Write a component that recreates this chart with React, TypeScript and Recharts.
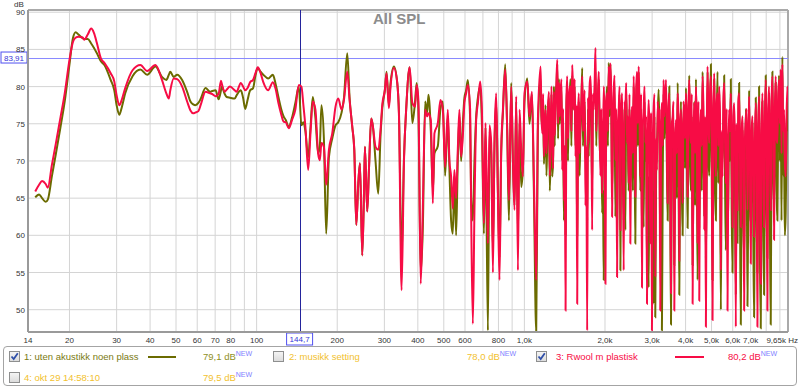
import React from 'react';
import { LineChart, Line, XAxis, YAxis, CartesianGrid, ReferenceLine } from 'recharts';

// 14 - 150 Hz
const lowFreqs = [14.9, 15.4, 15.8, 16.3, 16.6, 17.2, 17.8, 18.5, 19.2, 20.0, 20.6, 21.1, 21.6, 22.4, 22.7, 23.4, 24.1, 24.7, 25.3, 26.2,
  27.0, 28.5, 29.4, 30.0, 30.7, 31.4, 32.3, 34.4, 36.8, 39.0, 41.9, 44.3, 46.0, 47.0, 47.6, 49.0, 50.5, 52.7, 55.0, 56.6,
  58.0, 59.0, 60.6, 61.9, 64.4, 67.0, 68.2, 70.3, 72.1, 73.6, 74.1, 76.0, 77.3, 79.5, 82.8, 84.1, 87.3, 89.0, 90.7, 92.5,
  94.6, 97.0, 99.0, 101.0, 103.5, 105.9, 110.4, 115.0, 117.5, 120.6, 123.5, 126.1, 128.5, 131.8, 135.5, 139.5, 143.7, 147.0, 149.5];
const lowUten = [65.1, 65.5, 65.0, 64.5, 64.8, 68.0, 71.0, 74.5, 78.0, 83.0, 86.5, 87.3, 87.0, 86.5, 86.4, 86.4, 85.8, 85.2, 84.5, 83.4,
  82.9, 80.9, 79.5, 77.5, 76.2, 77.3, 79.1, 81.4, 82.3, 81.6, 82.7, 81.3, 80.9, 81.6, 82.0, 81.3, 81.6, 80.9, 79.3, 78.0,
  77.6, 77.5, 77.8, 78.4, 79.8, 79.3, 79.4, 79.5, 78.3, 79.5, 80.0, 79.0, 78.6, 78.5, 78.4, 78.8, 79.5, 78.5, 77.0, 78.2,
  79.5, 79.8, 81.5, 82.5, 82.0, 81.6, 81.1, 81.6, 80.5, 78.6, 77.0, 76.0, 75.5, 74.6, 75.8, 77.8, 80.0, 74.8, 75.2];
const lowRwool = [65.9, 66.8, 67.3, 66.9, 66.4, 69.5, 72.4, 75.8, 79.1, 83.6, 86.0, 86.6, 86.7, 86.6, 86.3, 87.0, 87.8, 87.2, 85.9, 83.8,
  83.2, 81.8, 80.7, 78.8, 77.5, 78.3, 79.8, 82.2, 82.9, 82.1, 82.9, 80.9, 79.1, 78.4, 79.5, 81.1, 81.0, 80.0, 78.0, 76.8,
  76.4, 76.5, 76.7, 77.6, 79.3, 79.1, 79.0, 78.7, 79.0, 80.8, 80.4, 79.3, 79.6, 80.0, 79.5, 79.3, 80.5, 80.0, 79.5, 79.8,
  80.6, 80.9, 81.8, 82.6, 81.8, 80.6, 79.5, 80.6, 79.8, 77.8, 76.3, 75.3, 75.2, 74.4, 75.5, 76.9, 80.2, 80.0, 77.5];

// 150 - 410 Hz
const bassFreqs = [152.1, 155.8, 158.9, 162.1, 165.8, 169.7, 172.2, 174.6, 178.3, 181.9, 186.2, 191.6, 197.1, 201.8, 207.6, 211.9, 218.0,
  222.4, 227.6, 231.6, 235.6, 239.7, 243.2, 248.0, 251.7, 253.8, 258.9, 262.7, 267.9, 271.9, 278.0, 284.6, 290.3, 294.5,
  301.4, 305.6, 311.9, 316.3, 325.7, 335.1, 340.1, 347.8, 355.1, 362.3, 372.8, 381.6, 390.6, 396.0, 401.9, 410.0];
const bassUten = [74.0, 70.5, 74.5, 78.6, 75.8, 71.0, 72.0, 77.5, 73.0, 60.2, 70.5, 73.0, 74.8, 75.2, 76.5, 78.5, 84.5,
  78.5, 74.6, 71.5, 61.4, 67.0, 69.7, 57.3, 65.6, 71.9, 63.2, 68.8, 75.7, 74.6, 70.0, 65.6, 73.5, 77.0,
  79.6, 82.0, 77.5, 80.5, 82.7, 80.5, 76.5, 57.1, 70.5, 77.3, 82.6, 75.1, 78.0, 80.5, 77.0, 55.0];
const bassRwool = [74.6, 68.8, 73.7, 78.0, 76.9, 71.0, 70.1, 72.4, 71.9, 66.8, 71.5, 73.7, 77.3, 78.4, 76.9, 78.2, 82.0,
  78.2, 74.6, 71.5, 61.4, 67.0, 69.7, 57.3, 65.6, 71.9, 63.2, 68.8, 75.7, 74.6, 71.9, 71.5, 74.2, 77.5,
  79.6, 81.8, 77.1, 80.0, 82.5, 80.5, 76.0, 52.6, 70.1, 77.3, 82.6, 77.8, 77.3, 80.2, 78.2, 53.5];

// 410 Hz - 1.1 kHz
const midFreqs = [417.6, 425.9, 433.3, 438.2, 447.3, 455.1, 461.4, 475.1, 485.8, 495.9, 505.8, 517.6, 524.8, 532.5, 540.3, 547.8,
  555.9, 564.0, 571.9, 580.4, 588.9, 597.1, 606.0, 614.9, 627.2, 632.6, 642.0, 650.9, 660.6, 670.4, 683.8, 693.9,
  706.0, 715.8, 730.7, 740.9, 751.8, 762.9, 773.4, 784.8, 796.4, 807.4, 819.3, 831.4, 848.0, 862.7, 875.4, 892.9,
  906.1, 918.6, 932.2, 946.0, 959.1, 973.2, 987.5, 1001, 1025, 1045, 1067, 1085, 1107, 1123];
const midUten = [61.1, 78.0, 76.5, 78.9, 74.0, 66.0, 71.0, 72.0, 77.0, 78.0, 68.0, 76.0, 69.0, 62.0, 60.2, 68.0,
  60.0, 70.0, 76.0, 70.0, 75.0, 78.5, 79.5, 80.9, 75.5, 65.0, 62.0, 70.0, 76.0, 78.5, 80.0, 75.0,
  60.2, 74.5, 47.2, 74.0, 71.0, 58.0, 72.0, 78.0, 66.0, 57.0, 71.0, 76.4, 83.0, 74.0, 62.0, 80.5,
  70.0, 64.0, 78.0, 60.0, 75.0, 66.5, 69.0, 78.0, 81.1, 75.0, 79.0, 66.0, 47.0, 74.0];
const midRwool = [63.8, 76.9, 76.0, 76.4, 75.5, 64.3, 73.7, 75.1, 78.2, 76.9, 69.2, 76.9, 70.1, 67.9, 63.6, 68.8,
  65.0, 71.5, 76.9, 70.6, 73.3, 77.8, 79.1, 80.2, 76.9, 63.4, 48.1, 63.4, 75.5, 77.8, 80.7, 76.9,
  61.6, 75.1, 58.9, 74.8, 72.4, 55.0, 73.0, 79.1, 65.2, 54.0, 71.5, 76.9, 82.3, 74.2, 64.7, 80.0,
  70.1, 63.4, 78.7, 55.3, 76.9, 71.5, 67.9, 79.1, 80.7, 76.0, 79.3, 67.9, 54.0, 75.5];

// 1.1 - 3.3 kHz
const upperFreqs = [1150, 1158, 1167, 1175, 1183, 1192, 1200, 1209, 1218, 1226, 1235, 1244, 1253, 1262, 1271, 1280, 1289, 1298, 1308, 1317,
  1327, 1336, 1346, 1355, 1365, 1375, 1385, 1395, 1405, 1415, 1425, 1435, 1445, 1455, 1466, 1476, 1487, 1498, 1509, 1519,
  1530, 1541, 1552, 1563, 1575, 1586, 1597, 1608, 1620, 1632, 1644, 1655, 1667, 1679, 1691, 1703, 1716, 1728, 1740, 1752,
  1765, 1778, 1791, 1803, 1816, 1830, 1843, 1856, 1869, 1882, 1896, 1909, 1923, 1937, 1951, 1965, 1979, 1993, 2008, 2022,
  2036, 2051, 2066, 2080, 2095, 2110, 2126, 2141, 2156, 2171, 2187, 2203, 2219, 2235, 2251, 2267, 2283, 2299, 2316, 2332,
  2349, 2366, 2383, 2400, 2417, 2434, 2452, 2469, 2487, 2505, 2523, 2541, 2559, 2577, 2596, 2615, 2634, 2653, 2672, 2691,
  2710, 2729, 2749, 2769, 2789, 2809, 2829, 2849, 2870, 2890, 2911, 2932, 2953, 2974, 2995, 3016, 3038, 3060, 3082, 3104,
  3127, 3149, 3172, 3194, 3217, 3240, 3263, 3286, 3310, 3333];
const upperUten = [81.0, 75.0, 75.0, 78.0, 69.6, 73.0, 77.5, 68.0, 73.0, 77.0, 78.5, 66.0, 70.0, 79.0, 67.9, 70.0, 80.0, 72.0, 80.0, 80.0,
  83.0, 73.0, 81.0, 75.0, 78.0, 80.0, 70.0, 74.0, 62.0, 70.0, 60.0, 77.0, 80.0, 70.0, 79.0, 79.0, 81.0, 72.0, 81.5, 78.0,
  77.0, 80.0, 72.0, 75.0, 60.0, 74.0, 78.0, 68.0, 74.5, 77.0, 82.5, 72.0, 76.0, 78.0, 70.6, 70.0, 62.0, 77.0, 70.6, 79.0,
  80.0, 75.0, 66.0, 78.0, 78.0, 79.0, 82.0, 72.0, 79.0, 78.0, 81.0, 73.0, 70.0, 75.0, 63.0, 66.0, 54.0, 74.0, 78.0, 77.0,
  80.0, 72.0, 83.2, 76.0, 83.0, 78.0, 66.0, 73.0, 78.0, 80.0, 62.5, 75.0, 60.0, 72.0, 75.0, 79.0, 55.3, 74.0, 78.0, 68.0,
  62.0, 77.0, 60.7, 79.0, 74.0, 73.0, 66.0, 77.0, 66.5, 71.0, 76.0, 66.0, 80.0, 74.0, 58.9, 78.0, 81.0, 72.0, 82.0, 75.0,
  66.0, 77.0, 60.0, 70.0, 61.1, 78.0, 70.0, 72.0, 55.7, 68.0, 53.0, 70.0, 62.0, 73.0, 57.0, 66.0, 50.8, 76.0, 49.0, 68.0,
  72.0, 76.0, 79.6, 74.0, 58.0, 72.0, 47.2, 67.0, 79.0, 73.0];
const upperRwool = [82.7, 76.0, 73.7, 79.0, 70.6, 74.0, 76.9, 71.0, 74.6, 77.5, 79.3, 68.0, 72.4, 80.0, 74.0, 69.0, 79.3, 73.5, 76.9, 80.5,
  83.6, 75.0, 80.5, 76.0, 79.1, 81.0, 68.8, 77.0, 64.7, 72.0, 49.9, 78.0, 81.4, 73.0, 77.8, 80.0, 80.0, 74.0, 82.9, 79.5,
  76.9, 81.0, 70.6, 77.5, 50.8, 76.0, 79.1, 71.0, 75.5, 78.0, 81.4, 74.0, 76.9, 79.5, 64.0, 72.0, 47.2, 78.5, 72.4, 80.0,
  81.4, 77.0, 60.7, 79.0, 76.9, 80.5, 85.2, 74.0, 77.3, 79.0, 82.0, 75.5, 68.0, 77.0, 65.6, 71.0, 80.0, 76.0, 53.5, 78.0,
  79.1, 74.0, 82.7, 77.0, 83.1, 79.0, 62.5, 75.0, 79.6, 81.5, 70.1, 77.0, 54.4, 75.0, 76.9, 80.0, 60.7, 76.5, 79.1, 72.0,
  55.3, 78.0, 76.9, 80.5, 72.4, 76.0, 67.0, 79.0, 58.9, 74.0, 77.3, 71.0, 81.4, 76.0, 65.2, 79.5, 82.0, 75.0, 82.7, 77.0,
  67.9, 79.0, 53.0, 74.5, 76.9, 80.0, 72.4, 76.0, 50.8, 73.0, 78.2, 74.0, 58.9, 76.5, 47.2, 72.0, 76.9, 79.0, 54.4, 73.0,
  68.8, 78.0, 74.0, 77.0, 49.9, 75.0, 77.8, 72.0, 80.9, 76.0];

// 3.3 - 9.65 kHz
const topFreqs = [3380, 3404, 3429, 3453, 3478, 3503, 3528, 3553, 3579, 3604,
  3630, 3656, 3683, 3709, 3736, 3762, 3789, 3816, 3844, 3871,
  3899, 3927, 3955, 3983, 4012, 4041, 4070, 4099, 4129, 4158,
  4188, 4218, 4249, 4279, 4310, 4341, 4372, 4403, 4435, 4467,
  4499, 4531, 4563, 4596, 4629, 4662, 4696, 4729, 4763, 4797,
  4832, 4866, 4901, 4936, 4972, 5007, 5043, 5079, 5116, 5153,
  5190, 5227, 5264, 5302, 5340, 5378, 5417, 5456, 5495, 5534,
  5574, 5614, 5654, 5695, 5736, 5777, 5818, 5860, 5902, 5944,
  5987, 6030, 6073, 6117, 6161, 6205, 6250, 6295, 6340, 6385,
  6431, 6477, 6524, 6571, 6618, 6665, 6713, 6761, 6810, 6859,
  6908, 6957, 7007, 7057, 7108, 7159, 7210, 7262, 7314, 7366,
  7419, 7472, 7526, 7580, 7634, 7689, 7744, 7800, 7856, 7912,
  7969, 8026, 8084, 8142, 8200, 8259, 8318, 8378, 8438, 8499,
  8560, 8621, 8683, 8745, 8808, 8871, 8935, 8999, 9063, 9128,
  9194, 9260, 9326, 9393, 9460, 9530, 9600, 9630];
const topUten = [79.0, 70.0, 62.0, 75.0, 80.0, 66.0, 48.0, 72.0, 75.0, 74.0,
  56.0, 68.0, 73.0, 65.0, 80.5, 72.0, 52.0, 70.0, 78.0, 67.0,
  60.0, 75.0, 77.5, 69.0, 79.8, 72.0, 61.0, 74.0, 81.5, 70.0,
  66.0, 76.0, 56.0, 68.0, 78.0, 64.0, 81.0, 72.0, 54.0, 75.0,
  61.0, 70.0, 76.0, 66.0, 82.0, 74.0, 62.5, 72.0, 57.0, 68.0,
  82.0, 71.0, 68.0, 76.0, 83.0, 70.0, 54.0, 73.0, 81.0, 66.0,
  62.0, 75.0, 82.0, 67.0, 79.0, 72.0, 50.0, 70.0, 70.0, 74.0,
  81.5, 68.0, 58.0, 73.0, 61.0, 65.0, 75.0, 70.0, 81.0, 64.0,
  55.0, 72.0, 76.0, 66.0, 52.0, 71.0, 59.0, 75.0, 80.5, 64.0,
  48.0, 70.0, 74.0, 62.0, 57.0, 68.0, 77.0, 73.0, 50.5, 66.0,
  79.5, 62.0, 62.0, 70.0, 75.0, 60.0, 49.0, 68.0, 78.5, 64.0,
  55.0, 71.0, 80.0, 58.0, 47.5, 70.0, 78.0, 62.0, 52.0, 72.0,
  81.5, 64.0, 57.0, 73.0, 79.0, 62.0, 48.0, 75.0, 82.0, 68.0,
  64.0, 74.0, 80.5, 66.0, 62.0, 76.0, 81.5, 70.0, 80.0, 62.0,
  84.0, 68.0, 70.0, 60.0, 63.0, 72.0, 78.0, 74.0];
const topRwool = [80.9, 73.0, 64.3, 77.0, 79.1, 70.0, 52.2, 75.0, 76.0, 78.0,
  49.9, 72.0, 75.5, 71.0, 79.1, 76.0, 56.6, 74.0, 76.9, 72.0,
  64.3, 78.0, 76.0, 73.0, 79.1, 75.0, 65.2, 77.0, 80.9, 74.0,
  72.4, 79.0, 50.8, 73.0, 77.8, 71.0, 80.0, 75.0, 58.9, 78.0,
  51.2, 74.0, 76.9, 72.0, 81.4, 77.0, 60.7, 76.0, 47.7, 73.0,
  82.7, 75.0, 72.4, 79.0, 81.4, 74.0, 48.6, 76.0, 81.8, 73.0,
  67.9, 78.0, 79.1, 72.0, 80.0, 76.0, 55.3, 74.0, 67.9, 78.0,
  80.5, 73.0, 67.0, 77.0, 49.9, 71.0, 76.9, 74.0, 79.1, 70.0,
  61.1, 76.0, 77.8, 72.0, 47.7, 75.0, 63.4, 78.0, 79.1, 71.0,
  61.1, 74.0, 76.0, 70.0, 49.9, 73.0, 75.5, 77.0, 63.4, 72.0,
  78.7, 70.0, 56.2, 74.0, 76.0, 69.0, 59.8, 73.0, 77.8, 71.0,
  47.7, 75.0, 78.7, 68.0, 53.5, 74.0, 79.1, 70.0, 61.1, 76.0,
  80.9, 72.0, 49.9, 77.0, 80.0, 71.0, 63.4, 78.0, 81.4, 74.0,
  59.4, 77.0, 81.4, 73.0, 72.4, 79.0, 80.9, 75.0, 82.3, 71.0,
  83.0, 74.0, 76.9, 70.0, 67.9, 76.0, 80.0, 78.0];

const freqs = [...lowFreqs, ...bassFreqs, ...midFreqs, ...upperFreqs, ...topFreqs];
const utenAkustikk = [...lowUten, ...bassUten, ...midUten, ...upperUten, ...topUten];
const rwoolPlastisk = [...lowRwool, ...bassRwool, ...midRwool, ...upperRwool, ...topRwool];

const xGridTicks = [14, 20, 30, 40, 50, 60, 70, 80, 90, 100, 200, 300, 400, 500, 600, 700, 800, 900,
  1000, 2000, 3000, 4000, 5000, 6000, 7000, 8000, 9000, 9650];
const xTickLabels: Record<number, string> = {
  14: '14', 20: '20', 30: '30', 40: '40', 50: '50', 60: '60', 70: '70', 80: '80', 100: '100',
  200: '200', 300: '300', 400: '400', 500: '500', 600: '600', 800: '800',
  1000: '1,0k', 2000: '2,0k', 3000: '3,0k', 4000: '4,0k', 5000: '5,0k', 6000: '6,0k', 7000: '7,0k', 9650: '9,65k Hz',
};
const yTicks = [50, 55, 60, 65, 70, 75, 80, 85, 90];

const cursorFreq = 144.7;
const cursorLevel = 83.91;

const OLIVE = '#6b6b00';
const RED = '#f70c45';
const GOLD = '#f2c12e';

const data = freqs.map((f, i) => ({ f, uten: utenAkustikk[i], rwool: rwoolPlastisk[i] }));

const XTick = (props: any) => {
  const { x, y, payload } = props;
  const label = xTickLabels[payload.value];
  if (!label) return <g />;
  const last = payload.value === 9650;
  return (
    <text x={last ? x + 10 : x} y={y + 11} textAnchor={last ? 'end' : 'middle'} fontSize={8} fill="#333">
      {label}
    </text>
  );
};

const YTick = (props: any) => {
  const { x, y, payload } = props;
  return (
    <text x={x - 3} y={y + 3} textAnchor="end" fontSize={8} fill="#333">
      {payload.value}
    </text>
  );
};

const CursorXLabel = (props: any) => {
  const { x, y, height } = props.viewBox;
  return (
    <g>
      <rect x={x - 13} y={y + height + 1} width={26} height={12} fill="#fff" stroke="#5050f0" />
      <text x={x} y={y + height + 10} textAnchor="middle" fontSize={8} fill="#3636d8">144,7</text>
    </g>
  );
};

const CursorYLabel = (props: any) => {
  const { y } = props.viewBox;
  return (
    <g>
      <rect x={1} y={y - 5.5} width={26} height={11} fill="#fff" stroke="#5050f0" />
      <text x={14} y={y + 3} textAnchor="middle" fontSize={8} fill="#3636d8">83,91</text>
    </g>
  );
};

// draws the cursor lines with an explicit colour, snapped to the pixel grid
const cursorShape = (color: string, width: number) => (p: any) => {
  const horizontal = Math.abs(p.y1 - p.y2) < 0.01;
  const y = horizontal ? Math.round(p.y1) + 0.5 : null;
  const x = horizontal ? null : Math.round(p.x1) + 0.5;
  return horizontal
    ? <line x1={p.x1} y1={y!} x2={p.x2} y2={y!} stroke={color} strokeWidth={width} />
    : <line x1={x!} y1={p.y1} x2={x!} y2={p.y2} stroke={color} strokeWidth={width} />;
};

const CheckBox = ({ checked, left, top }: { checked: boolean; left: number; top: number }) => (
  <div style={{
    position: 'absolute', left, top, width: 11, height: 11, border: '1px solid #8e8f8f',
    background: 'linear-gradient(#f4f4f4, #dcdcdc)', boxSizing: 'border-box',
  }}>
    {checked && (
      <svg width={11} height={11} style={{ position: 'absolute', left: -1, top: -1 }}>
        <path d="M2.5 5.5 L4.7 8 L8.8 2.2" fill="none" stroke="#2f4fa8" strokeWidth={1.8} />
      </svg>
    )}
  </div>
);

const Txt = ({ left, top, color, children }: { left: number; top: number; color: string; children: React.ReactNode }) => (
  <div style={{ position: 'absolute', left, top, color, fontSize: 9.5, lineHeight: '12px', whiteSpace: 'nowrap' }}>{children}</div>
);

const Level = ({ left, top, color, value }: { left: number; top: number; color: string; value: string }) => (
  <Txt left={left} top={top} color={color}>
    {value} dB<span style={{ color: '#8080ff', fontSize: 7, position: 'relative', top: -4 }}>NEW</span>
  </Txt>
);

export default function App() {
  return (
    <div style={{ position: 'absolute', left: 0, top: 0, width: 800, height: 390, background: '#fff', fontFamily: '"Liberation Sans", Arial, sans-serif' }}>
      <LineChart width={800} height={350} data={data} margin={{ top: 10, right: 12, left: 0, bottom: 0 }}>
        <CartesianGrid stroke="#d4d4d4" />
        <XAxis
          dataKey="f"
          type="number"
          scale="log"
          domain={[14, 9650]}
          allowDataOverflow
          ticks={xGridTicks}
          interval={0}
          tick={<XTick />}
          tickSize={0}
          tickMargin={0}
          height={18}
          axisLine={{ stroke: '#9a9a9a', strokeWidth: 2 }}
        />
        <YAxis
          type="number"
          domain={[47, 90.3]}
          allowDataOverflow
          ticks={yTicks}
          interval={0}
          tick={<YTick />}
          tickSize={0}
          tickMargin={0}
          width={28}
          axisLine={{ stroke: '#9a9a9a', strokeWidth: 2 }}
        />
        <ReferenceLine y={90.3} stroke="#aaaaaa" strokeWidth={2} />
        <ReferenceLine x={9650} stroke="#aaaaaa" strokeWidth={2} />
        <ReferenceLine y={cursorLevel} shape={cursorShape('#8a8aff', 1)} label={<CursorYLabel />} />
        <ReferenceLine x={cursorFreq} shape={cursorShape('#24249c', 1)} label={<CursorXLabel />} />
        <Line type="monotone" dataKey="uten" stroke={OLIVE} strokeWidth={2} dot={false} isAnimationActive={false} />
        <Line type="monotone" dataKey="rwool" stroke={RED} strokeWidth={2} dot={false} isAnimationActive={false} />
      </LineChart>

      <div style={{ position: 'absolute', left: 14, top: 0, fontSize: 8, color: '#333' }}>dB</div>
      <div style={{ position: 'absolute', left: 373, top: 10, fontSize: 15, fontWeight: 'bold', color: '#8c8c8c' }}>All SPL</div>

      <div style={{ position: 'absolute', left: 3, top: 346, width: 794, height: 40, border: '1px solid #a4a4a4', borderRadius: 4, boxSizing: 'border-box' }} />
      <CheckBox checked left={9} top={351} />
      <Txt left={24} top={351} color="#7a7a12">1: uten akustikk noen plass</Txt>
      <div style={{ position: 'absolute', left: 148, top: 356, width: 28, height: 2, background: OLIVE }} />
      <Level left={203} top={351} color="#8f8f1c" value="79,1" />

      <CheckBox checked={false} left={273} top={351} />
      <Txt left={289} top={351} color={GOLD}>2: musikk setting</Txt>
      <Level left={467} top={351} color={GOLD} value="78,0" />

      <CheckBox checked left={536} top={351} />
      <Txt left={556} top={351} color={RED}>3: Rwool m plastisk</Txt>
      <div style={{ position: 'absolute', left: 675, top: 356, width: 29, height: 2, background: RED }} />
      <Level left={728} top={351} color={RED} value="80,2" />

      <CheckBox checked={false} left={9} top={372} />
      <Txt left={24} top={372} color={GOLD}>4: okt 29 14:58:10</Txt>
      <Level left={203} top={372} color={GOLD} value="79,5" />
    </div>
  );
}
